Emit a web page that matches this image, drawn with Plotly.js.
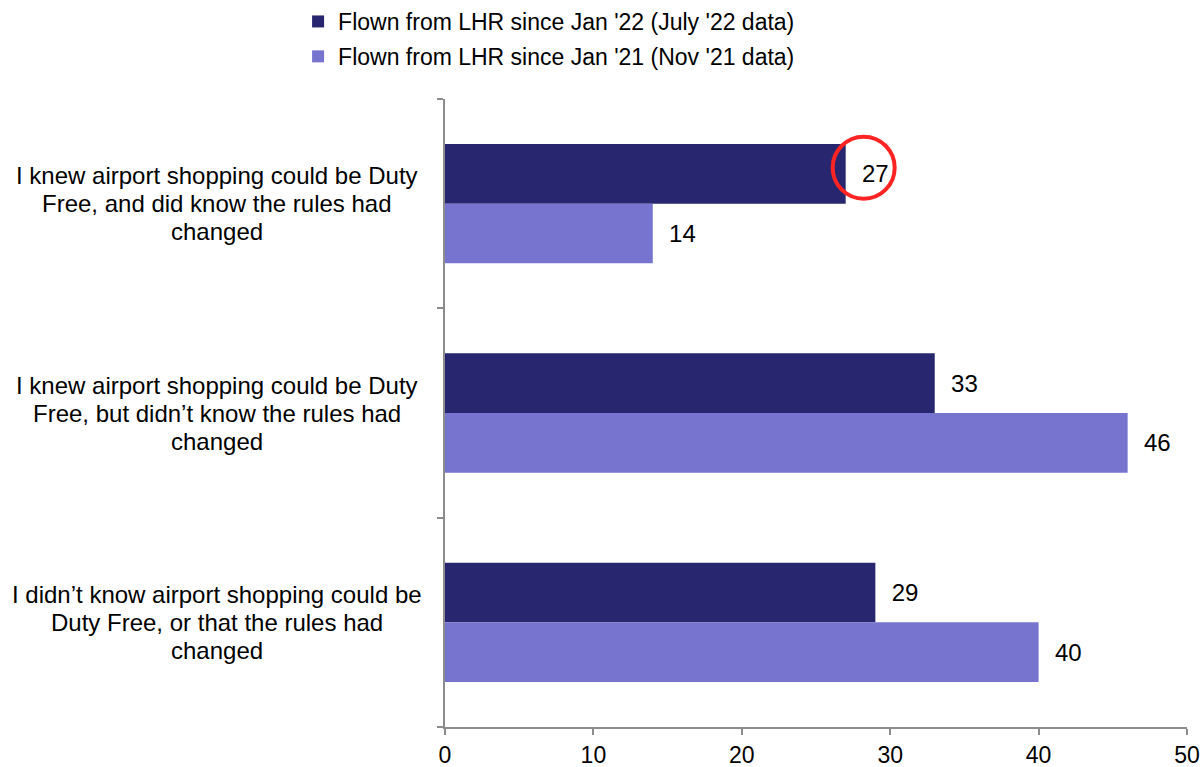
<!DOCTYPE html>
<html>
<head>
<meta charset="utf-8">
<script src="https://cdn.plot.ly/plotly-3.0.1.min.js"></script>
<style>html,body{margin:0;padding:0;background:#fff;}#chart{width:1200px;height:767px;}</style>
</head>
<body>
<div id="chart"></div>
<script>
var categories = [
  ["I knew airport shopping could be Duty", "Free, and did know the rules had", "changed"],
  ["I knew airport shopping could be Duty", "Free, but didn\u2019t know the rules had", "changed"],
  ["I didn\u2019t know airport shopping could be", "Duty Free, or that the rules had", "changed"]
];
var seriesNames = ["Flown from LHR since Jan '22 (July '22 data)", "Flown from LHR since Jan '21 (Nov '21 data)"];
var july22 = [27, 33, 29];
var nov21 = [14, 46, 40];
var xTicks = [0, 10, 20, 30, 40, 50];
var highlightIndex = 0; // circled value: July '22, first category

var FONT = "Liberation Sans, Arial, sans-serif";
var colors = ["#27266F", "#7674CF"];
var idx = categories.map(function (c, i) { return i; });

function barTrace(vals, name, color, group) {
  return {
    type: "bar", orientation: "h",
    x: vals, y: idx, name: name, legendgroup: group,
    marker: {color: color, line: {width: 0}},
    text: vals.map(function (v) { return "\u00a0\u00a0" + v; }),
    textposition: "outside", cliponaxis: false, constraintext: "none",
    textfont: {family: FONT, size: 24, color: "#000"},
    hoverinfo: "x+name"
  };
}

var data = [
  barTrace(july22, seriesNames[0], colors[0], "a"),
  barTrace(nov21, seriesNames[1], colors[1], "b")
];

var annotations = [];
categories.forEach(function (lines, i) {
  lines.forEach(function (line, j) {
    annotations.push({
      xref: "paper", yref: "y", x: -0.307, y: i,
      yshift: ((lines.length - 1) / 2 - j) * 28,
      text: line, showarrow: false, xanchor: "center", yanchor: "middle", align: "center",
      font: {family: FONT, size: 24, color: "#000"}
    });
  });
});

var layout = {
  width: 1200, height: 767,
  margin: {l: 445, r: 13, t: 99, b: 40, autoexpand: false},
  paper_bgcolor: "#fff", plot_bgcolor: "#fff",
  font: {family: FONT, size: 23, color: "#000"},
  barmode: "group", bargap: 0.43, bargroupgap: 0,
  showlegend: true,
  legend: {
    orientation: "v", xref: "paper", x: -0.198, xanchor: "left",
    yref: "container", y: 1, yanchor: "top",
    font: {family: FONT, size: 23, color: "#000"},
    traceorder: "grouped", tracegroupgap: 2, bgcolor: "rgba(0,0,0,0)"
  },
  xaxis: {
    range: [0, 50], tickvals: xTicks, ticktext: xTicks.map(String),
    showgrid: false, zeroline: false,
    showline: true, linecolor: "#8c8c8c", linewidth: 2,
    ticks: "outside", ticklen: 6, tickcolor: "#8c8c8c", tickwidth: 2,
    ticklabeloverflow: "allow",
    tickfont: {family: FONT, size: 23, color: "#000"}, fixedrange: true
  },
  yaxis: {
    type: "linear", range: [2.5, -0.5], tickvals: [-0.5, 0.5, 1.5, 2.5], showticklabels: false,
    showgrid: false, zeroline: false,
    showline: true, linecolor: "#8c8c8c", linewidth: 2,
    ticks: "outside", ticklen: 6, tickcolor: "#8c8c8c", tickwidth: 2, fixedrange: true
  },
  annotations: annotations,
  shapes: [{
    type: "circle", xref: "x", yref: "y",
    xsizemode: "pixel", ysizemode: "pixel",
    xanchor: july22[highlightIndex], yanchor: highlightIndex,
    x0: -13, x1: 49, y0: 5, y1: 67,
    line: {color: "#FF2424", width: 4}, fillcolor: "rgba(0,0,0,0)"
  }]
};

Plotly.newPlot("chart", data, layout, {displayModeBar: false, staticPlot: true});
</script>
</body>
</html>
